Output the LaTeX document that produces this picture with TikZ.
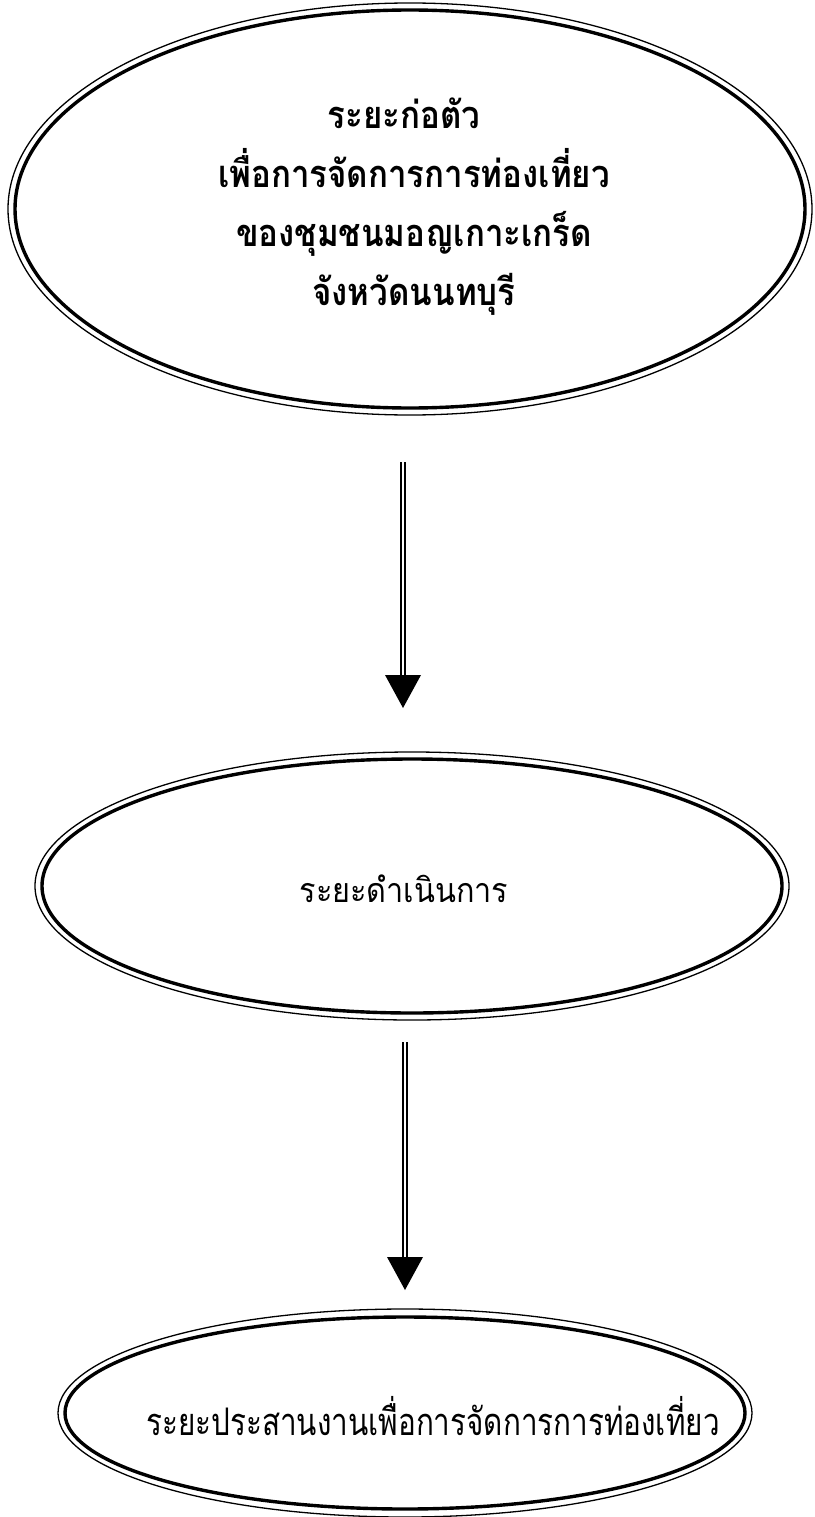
\documentclass[tikz,border=0pt]{standalone}
\usepackage{fontspec}
\newfontfamily\thaitop[Script=Thai,FakeStretch=0.87]{Loma}
\newfontfamily\thaimid[Script=Thai,FakeStretch=0.90]{Loma}
\newfontfamily\thaibot[Script=Thai,FakeStretch=0.78]{Loma}
\usetikzlibrary{shapes.geometric}
\begin{document}
\begin{tikzpicture}[x=1pt,y=1pt,
  phase/.style={ellipse,draw,line width=1.3pt,inner sep=0pt},
  inner ring/.style={line width=3.4pt},
  label text/.style={inner sep=0pt,align=center,text=black},
  shaft/.style={line width=1.4pt,double distance=2.6pt},
  tip/.style={fill=black,draw=none}]
\useasboundingbox (0,0) rectangle (814,-1517);
% phase 1
\node[phase,minimum width=804,minimum height=412] (e1) at (410,-209) {};
\draw[inner ring] (e1.center) ellipse [x radius=395, y radius=199];
\node[label text,font=\thaitop\bfseries\fontsize{38}{59}\selectfont] (t1) at (414,-207)
  {ระยะก่อตัว\hspace*{20pt}\\เพื่อการจัดการการท่องเที่ยว\\ของชุมชนมอญเกาะเกร็ด\\จังหวัดนนทบุรี};
% phase 2
\node[phase,minimum width=754,minimum height=268] (e2) at (412,-886) {};
\draw[inner ring] (e2.center) ellipse [x radius=370, y radius=127];
\node[label text,font=\thaimid\fontsize{34}{40}\selectfont] (t2) at (404,-889) {ระยะดำเนินการ};
% phase 3
\node[phase,minimum width=694,minimum height=208] (e3) at (405,-1413) {};
\draw[inner ring] (e3.center) ellipse [x radius=340, y radius=96];
\node[label text,font=\thaibot\fontsize{38}{44}\selectfont] (t3) at (433,-1416) {ระยะประสานงานเพื่อการจัดการการท่องเที่ยว};
% arrows
\coordinate (a1s) at (403,-462);
\coordinate (a1t) at (403,-708);
\coordinate (a2s) at (405,-1042);
\coordinate (a2t) at (405,-1290);
\draw[shaft] (a1s) -- ([yshift=30]a1t);
\fill[tip] (a1t) -- ++(-18,33) -- ++(36,0) -- cycle;
\draw[shaft] (a2s) -- ([yshift=30]a2t);
\fill[tip] (a2t) -- ++(-18,33) -- ++(36,0) -- cycle;
\end{tikzpicture}
\end{document}
